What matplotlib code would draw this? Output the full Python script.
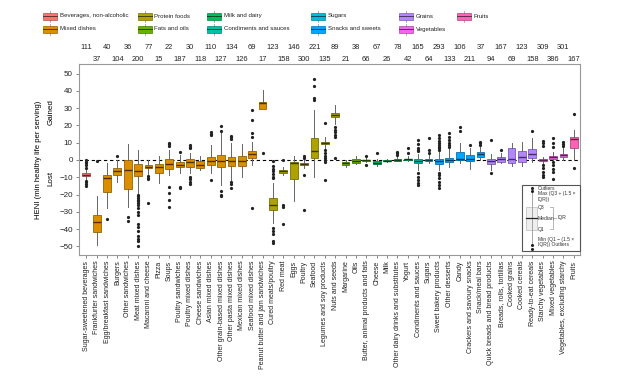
import matplotlib
matplotlib.use("Agg")
import matplotlib.pyplot as plt
from matplotlib.patches import Rectangle
from matplotlib.lines import Line2D
import matplotlib.colors as mcolors
import numpy as np

plt.rcParams['font.family'] = ['Liberation Sans', 'DejaVu Sans']

categories = [
    "Sugar-sweetened beverages", "Frankfurter sandwiches", "Egg/breakfast sandwiches", "Burgers",
    "Other sandwiches", "Meat mixed dishes", "Macaroni and cheese", "Pizza", "Soups",
    "Poultry sandwiches", "Poultry mixed dishes", "Cheese sandwiches", "Asian mixed dishes",
    "Other grain-based mixed dishes", "Other pasta mixed dishes", "Mexican mixed dishes",
    "Seafood mixed dishes", "Peanut butter and jam sandwiches", "Cured meats/poultry", "Red meat",
    "Eggs", "Poultry", "Seafood", "Legumes and soy products", "Nuts and seeds", "Margarine", "Oils",
    "Butter, animal products and fats", "Cheese", "Milk", "Other dairy drinks and substitutes",
    "Yogurt", "Condiments and sauces", "Sugars", "Sweet bakery products", "Other desserts", "Candy",
    "Crackers and savoury snacks", "Snack/meal bars", "Quick breads and bread products",
    "Breads, rolls, tortillas", "Cooked grains", "Cooked cereals", "Ready-to-eat cereals",
    "Starchy vegetables", "Mixed vegetables", "Vegetables, excluding starchy", "Fruits",
]
groups = (["Beverages, non-alcoholic"] + ["Mixed dishes"] * 17 + ["Protein foods"] * 7
          + ["Fats and oils"] * 3 + ["Milk and dairy"] * 4 + ["Condiments and sauces"]
          + ["Sugars"] + ["Snacks and sweets"] * 5 + ["Grains"] * 5 + ["Vegetables"] * 3 + ["Fruits"])
counts = [111, 37, 40, 104, 36, 200, 77, 15, 22, 187, 30, 118, 110, 127, 134, 126, 69, 17,
          123, 158, 146, 300, 221, 135, 89, 21, 38, 66, 67, 26, 78, 42, 165, 64, 293, 133,
          106, 211, 37, 94, 167, 69, 123, 158, 309, 386, 301, 167]

q1 = [-9.5, -41.7, -18.3, -8.7, -17, -9.2, -4.8, -7.7, -5.4, -4.2, -3.8, -4.8, -2.9, -3.8, -3.5,
      -3.5, 1, 29.2, -28.8, -7.3, -11, -2.9, 1.3, 9.2, 24.6, -2.9, -1.5, -0.6, -2.3, -0.6, -0.4,
      0, -1.9, -0.4, -2.3, -1, 0, -0.4, 1.9, -2.3, -1, -1.9, -1.3, 1, -0.6, 0.8, 1.9, 6.7]
med = [-8.5, -36, -10.6, -6.2, -5.8, -6.3, -3.8, -3.8, -2.3, -2.7, -1.2, -2.9, -0.6, -0.6, -0.5,
       -0.6, 3.3, 33, -26, -6.5, -1.9, -2.3, 5.4, 9.8, 26, -1.9, -0.6, -0.2, -1.5, -0.4, 0.2,
       0.4, -0.4, 0.2, -0.6, 0, 0.4, 0.6, 3.5, -0.4, 0.4, 0.4, 1.5, 3.5, 0, 1.5, 2.7, 12]
q3 = [-7.5, -31.7, -8.7, -4.4, 0, -2.5, -2.9, -2.5, 0.4, -1, 0.4, -0.6, 1.9, 2.9, 1.9,
      2.3, 5.4, 33.7, -22, -5.8, -1, -1.9, 12.5, 10.6, 27, -1, 0.4, 0, -0.6, 0, 0.6,
      0.8, 0.4, 0.8, 0.6, 1.3, 4.8, 2.9, 4.4, 0.6, 1.5, 7.1, 5.2, 6.2, 0.4, 2.3, 3.3, 13.5]
lo = [-11, -49, -28, -12.5, -27, -19, -8, -13.5, -8.7, -7.3, -7.7, -5.8, -7.7, -14.4, -11.5,
      -10, -2.9, 29.2, -36.5, -8.7, -24, -4.8, -9.6, 7, 21, -4.2, -2.3, -1.2, -3.5, -1, -0.8,
      -0.4, -5.8, -1.5, -5.8, -3.8, -1.9, -5.4, 0, -5.8, -1.9, -3.5, -3.5, -1, -1.5, 0, 0, 0]
hi = [-6, -21, -2, 0, 9.5, 6, 0, 2, 6, 3, 4, 2, 8.6, 15.4, 10,
      9.2, 10.6, 40.4, -13.5, -3.8, 2.5, 0, 29, 13, 31.7, 0, 2.3, 1, 0.8, 0.6, 2,
      2, 3.5, 2.9, 4.8, 6.7, 9.6, 6.7, 7.3, 3.3, 3.8, 9.6, 10.6, 12.9, 1.5, 4.8, 7.7, 17.3]
fliers = [
    [0, -1, -2, -3, -4.5, -12, -13, -14, -15],
    [-0.5],
    [-34],
    [2.3],
    [-33, -35.6],
    [-20, -21, -22, -23, -24, -25, -26, -28, -30, -32, -37, -39, -41, -44, -46, -47, -50],
    [-9.5, -10.5, -11, -25],
    [],
    [8, 9, 10, -15.4, -19, -23, -27],
    [4.8, -15.4, -16],
    [6.7, 7.5, 8.6, -9.6, -11, -12.5, -14],
    [],
    [14.4, 15, 16, -11.5],
    [17, 19.6, -18, -20, -21],
    [12, 13, 14, -12.5, -14, -16],
    [],
    [13, 15.8, 23, 28.8, -28],
    [3.8],
    [-0.5, -3.5, -5, -6.5, -8, -9.6, -10.6, -39.4, -41, -43, -46.7, -48],
    [0, -26, -27, -37],
    [],
    [1, 2, -8.7, -29],
    [34.6, 35.6, 43, 47],
    [21.5, 5.5, 4, 2.5, 1, 0, -1, -11.5],
    [19, 17.5, 16, 14.5, 13, 1],
    [],
    [],
    [2, -2.9],
    [4.2],
    [],
    [2.9, 3.8, 4.8],
    [3.8, 6.7],
    [5, 6, 7, 9, 11.5, -7.7, -9.6, -11.5, -13.5, -14.4],
    [4.2, 5.8, 12.5],
    [5.8, 6.7, 7.7, 8.6, 9.6, 11, 12.5, 14.4, -7.7, -9, -10.6, -12.5, -14.4, -16.3],
    [7.7, 8.6, 10, 11.5, 13, 15.4],
    [17, 19],
    [8.6],
    [8.6, 9.6, 10.6],
    [11.5, -7.7],
    [5.8],
    [],
    [],
    [17],
    [8.1, 9.6, 11, -2.9, -4.8, -6.7, -8.6, -10],
    [7.3, 10, 12.5, -1, -3, -5, -6.7, -11],
    [8, 9.2, 10.6],
    [26.5, -4.8],
]

group_names = ["Beverages, non-alcoholic", "Mixed dishes", "Protein foods", "Fats and oils",
               "Milk and dairy", "Condiments and sauces", "Sugars", "Snacks and sweets",
               "Grains", "Vegetables", "Fruits"]
group_colors = ["#F8766D", "#DB8E00", "#AEA200", "#64B200", "#00BD5C", "#00C1A7",
                "#00BADE", "#00A6FF", "#B385FF", "#EF67EB", "#FF63B6"]
color_of = dict(zip(group_names, group_colors))


def darker(c, f):
    r, g, b = mcolors.to_rgb(c)
    return (r * f, g * f, b * f)


W, H = 620, 378
fig = plt.figure(figsize=(W / 100, H / 100), dpi=100)
ax = fig.add_axes([79 / W, 1 - 255 / H, 501 / W, 191 / H])

pos = np.arange(1, len(categories) + 1)
stats = []
for i in range(len(categories)):
    stats.append(dict(med=med[i], q1=q1[i], q3=q3[i], whislo=lo[i], whishi=hi[i],
                      fliers=fliers[i]))

ax.axhline(0, color='black', lw=0.8, ls=(0, (3, 2.5)), zorder=1)
bp = ax.bxp(stats, positions=pos, widths=0.75, patch_artist=True, showcaps=False,
            flierprops=dict(marker='o', markersize=1.3, markerfacecolor='#222222',
                            markeredgecolor='#222222', linestyle='none'),
            whiskerprops=dict(color='#666666', lw=0.7),
            medianprops=dict(lw=1.0), boxprops=dict(lw=0.6))
for i, box in enumerate(bp['boxes']):
    c = color_of[groups[i]]
    box.set_facecolor(c)
    box.set_edgecolor(darker(c, 0.7))
    box.set_zorder(2)
    bp['medians'][i].set_color(darker(c, 0.35))

ax.set_xlim(0.3, len(categories) + 0.6)
ax.set_ylim(-55, 55.5)
ax.set_yticks(np.arange(-50, 51, 10))
ax.set_xticks(pos)
ax.set_xticklabels(categories, rotation=90, fontsize=5.0, color='#222222')
ax.tick_params(axis='y', labelsize=5.8, length=2.5, width=0.5, color='#555555', pad=2,
               labelcolor='#222222')
ax.tick_params(axis='x', length=2.5, width=0.5, color='#555555', pad=1.5)
for s in ax.spines.values():
    s.set_color('#999999')
    s.set_linewidth(0.8)

# counts above the panel
tr = ax.get_xaxis_transform()
for i, n in enumerate(counts):
    y = 1.089 if i % 2 == 0 else 1.026
    ax.text(pos[i], y, str(n), transform=tr, ha='center', va='center', fontsize=5.4,
            color='#222222')

# axis titles
fig.text(39 / W, 1 - 160 / H, "HENI (min healthy life per serving)", rotation=90,
         ha='center', va='center', fontsize=5.6)
fig.text(51 / W, 1 - 112 / H, "Gained", rotation=90, ha='center', va='center', fontsize=5.8)
fig.text(51 / W, 1 - 178 / H, "Lost", rotation=90, ha='center', va='center', fontsize=5.8)


def fx(x):
    return x / W


def fy(y):
    return 1 - y / H


# legend at the top
legend_cols = [
    (43, ["Beverages, non-alcoholic", "Mixed dishes"]),
    (138, ["Protein foods", "Fats and oils"]),
    (207, ["Milk and dairy", "Condiments and sauces"]),
    (311, ["Sugars", "Snacks and sweets"]),
    (399, ["Grains", "Vegetables"]),
    (457, ["Fruits"]),
]
for x0, names in legend_cols:
    for j, name in enumerate(names):
        yc = 16 + 13 * j
        c = color_of[name]
        fig.add_artist(Rectangle((fx(x0), fy(yc + 3.5)), 14 / W, 7 / H, transform=fig.transFigure,
                                 facecolor=c, edgecolor=darker(c, 0.7), lw=0.5))
        fig.add_artist(Line2D([fx(x0), fx(x0 + 14)], [fy(yc), fy(yc)], transform=fig.transFigure,
                              color=darker(c, 0.4), lw=0.7))
        fig.add_artist(Line2D([fx(x0 + 7), fx(x0 + 7)], [fy(yc - 5.5), fy(yc + 5.5)],
                              transform=fig.transFigure, color='#666666', lw=0.4, zorder=0.5))
        fig.text(fx(x0 + 16.5), fy(yc), name, ha='left', va='center', fontsize=4.4,
                 color='#222222')

# boxplot key inside the panel
fig.add_artist(Rectangle((fx(522), fy(251)), 58 / W, 66 / H, transform=fig.transFigure,
                         facecolor='white', edgecolor='#555555', lw=0.8))
kx = 531.5
fig.add_artist(Line2D([fx(kx), fx(kx)], [fy(192), fy(245)], transform=fig.transFigure,
                      color='#999999', lw=0.6))
fig.add_artist(Rectangle((fx(526), fy(230)), 11 / W, 23 / H, transform=fig.transFigure,
                         facecolor='#EEEEEE', edgecolor='#BBBBBB', lw=0.5))
fig.add_artist(Line2D([fx(526), fx(537)], [fy(218), fy(218)], transform=fig.transFigure,
                      color='#222222', lw=0.9))
for yy in [187.5, 190.5, 245.5, 249]:
    fig.add_artist(Line2D([fx(kx)], [fy(yy)], transform=fig.transFigure, marker='o',
                          markersize=1.2, color='#222222', lw=0))
key_texts = [(188, "Outliers"), (194, "Max (Q3 + (1.5 \u00d7"), (199.5, "IQR))"), (207, "Q3"),
             (218, "Median"), (229, "Q1"), (239, "Min (Q1 \u2212 (1.5 \u00d7"),
             (244.5, "IQR)) Outliers")]
for yy, t in key_texts:
    fig.text(fx(537.5), fy(yy), t, ha='left', va='center', fontsize=3.6, color='#333333')
fig.add_artist(Line2D([fx(550), fx(553), fx(553), fx(550)], [fy(207), fy(207), fy(229), fy(229)],
                      transform=fig.transFigure, color='#999999', lw=0.5))
fig.add_artist(Line2D([fx(553), fx(556)], [fy(218), fy(218)], transform=fig.transFigure,
                      color='#999999', lw=0.5))
fig.text(fx(557), fy(218), "IQR", ha='left', va='center', fontsize=3.6, color='#333333')

fig.savefig("out.png", dpi=100)
